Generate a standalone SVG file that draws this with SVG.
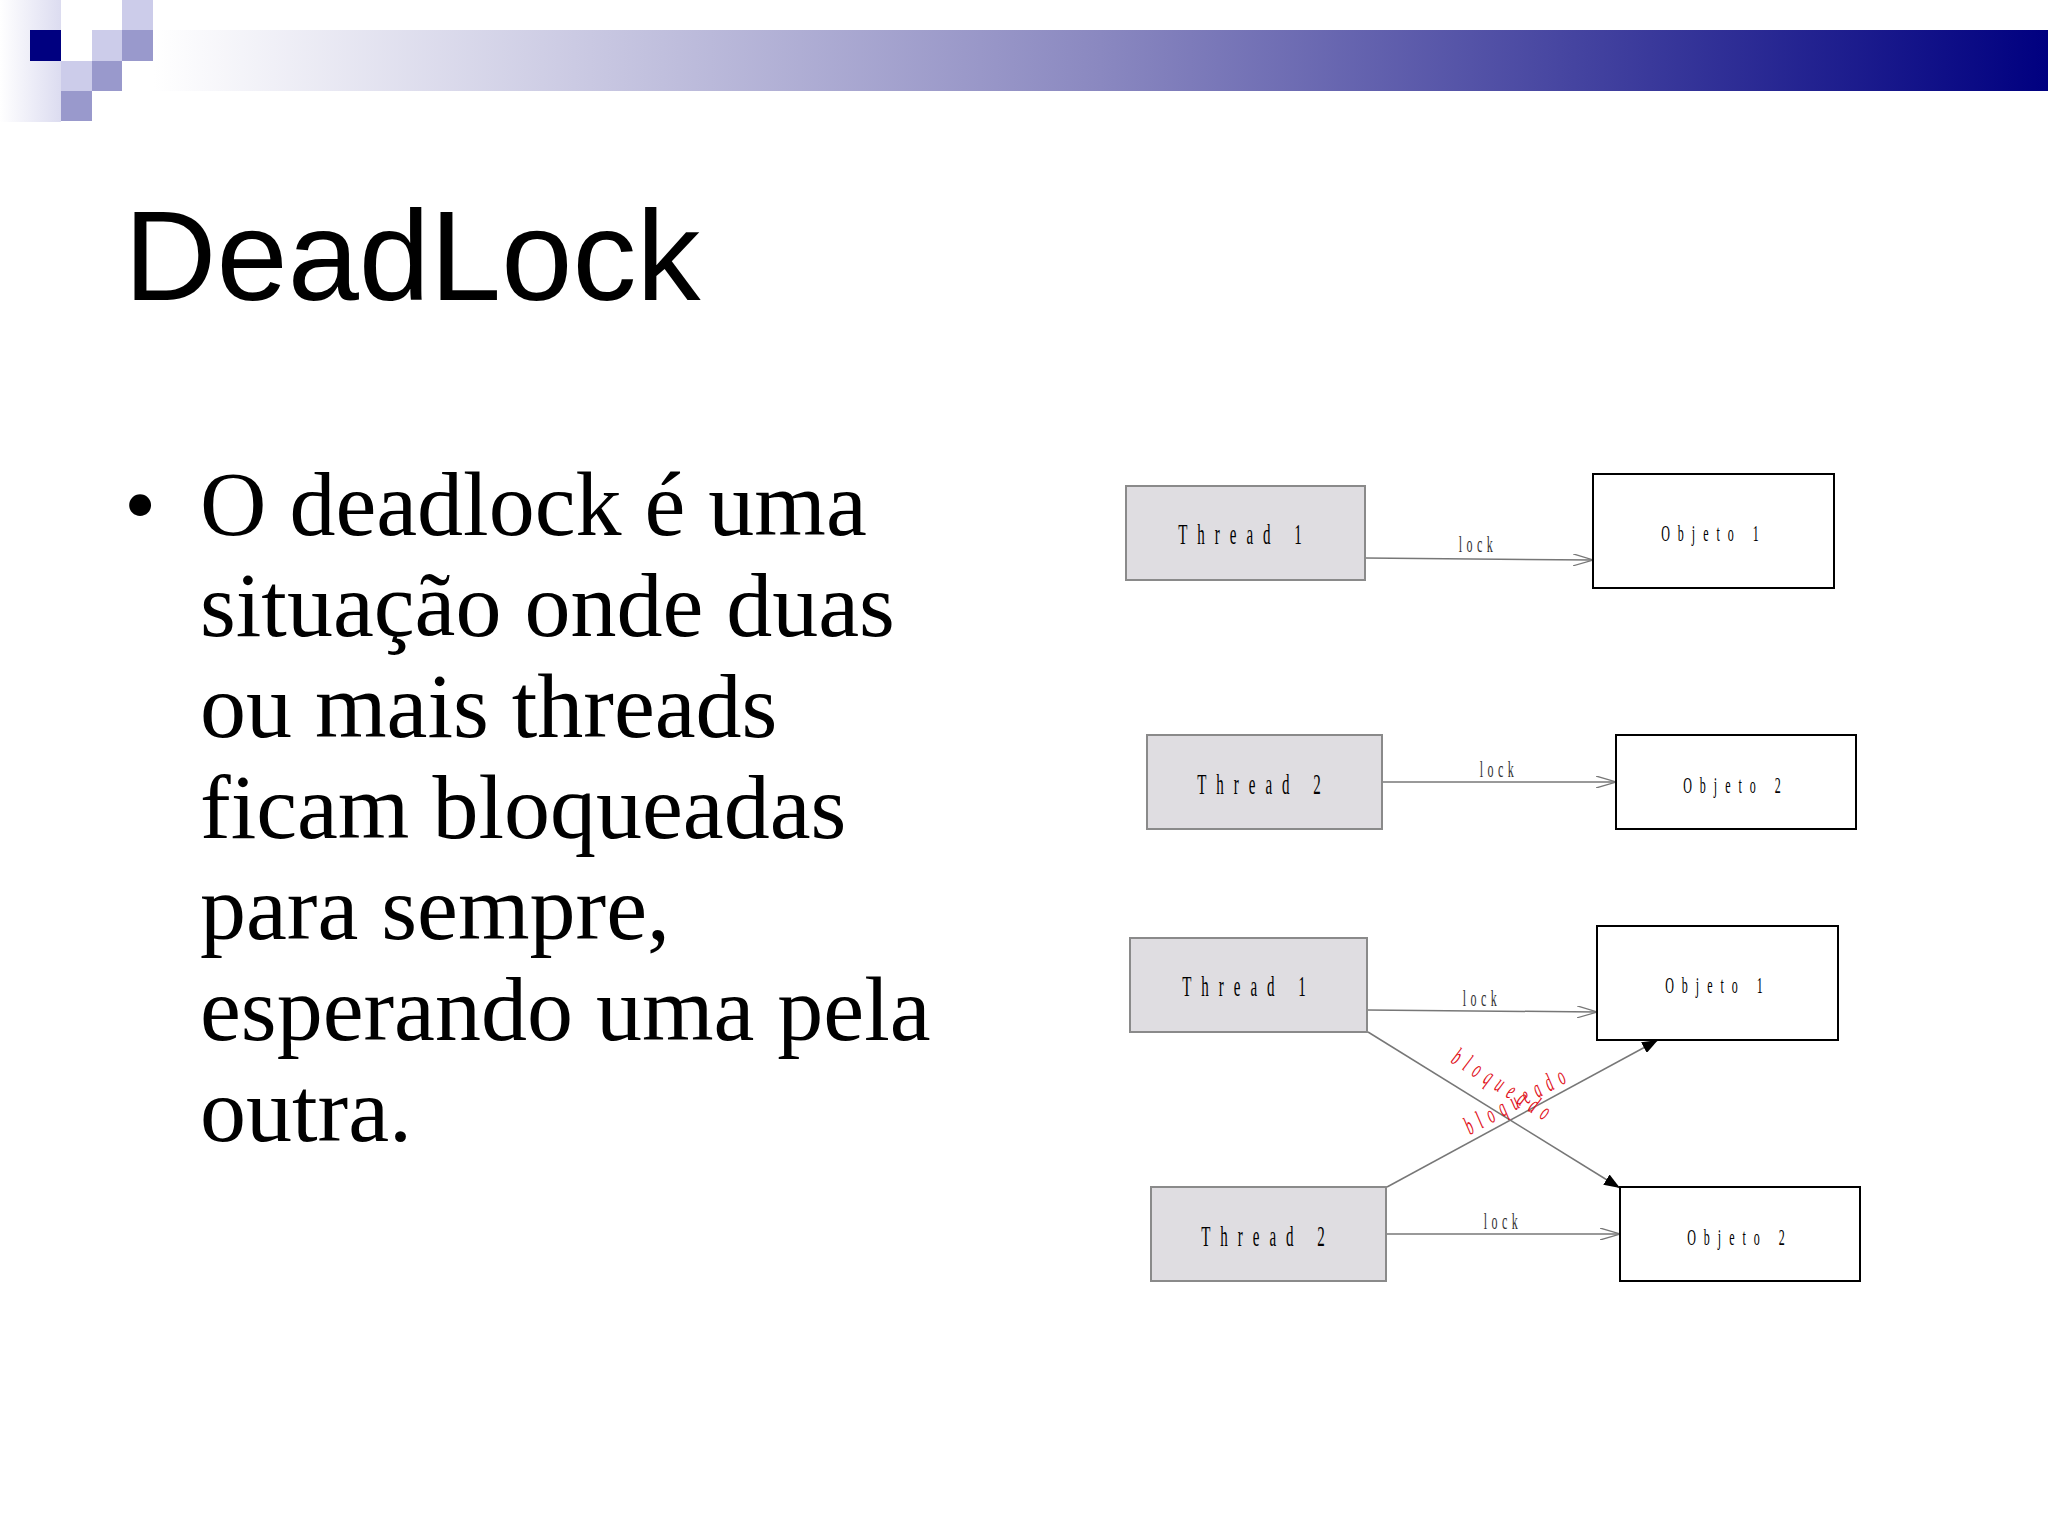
<svg xmlns="http://www.w3.org/2000/svg" width="2048" height="1536" viewBox="0 0 2048 1536">
<defs>
<linearGradient id="bar" x1="0" x2="1" y1="0" y2="0">
<stop offset="0" stop-color="#ffffff"/><stop offset="0.5" stop-color="#8a88c0"/><stop offset="1" stop-color="#000080"/>
</linearGradient>
<linearGradient id="side" x1="0" x2="1" y1="0" y2="0">
<stop offset="0" stop-color="#ffffff"/><stop offset="1" stop-color="#dcdcf0"/>
</linearGradient>
<marker id="open" viewBox="0 0 20 12" refX="20" refY="6" markerWidth="20" markerHeight="12" markerUnits="userSpaceOnUse" orient="auto">
<path d="M0,0 L20,6 L0,12" fill="none" stroke="#777" stroke-width="1.3"/>
</marker>
<marker id="fill" viewBox="0 0 16 12" refX="16" refY="6" markerWidth="16" markerHeight="12" markerUnits="userSpaceOnUse" orient="auto">
<path d="M0,0 L16,6 L0,12 Z" fill="#000"/>
</marker>
</defs>
<style>
.thr{fill:#dfdde1;stroke:#8a8a8a;stroke-width:2}
.obj{fill:#fff;stroke:#000;stroke-width:2}
.lbl{font-family:"Liberation Serif",serif;font-size:30px;letter-spacing:20px;fill:#000}
.olbl{font-family:"Liberation Serif",serif;font-size:24px;letter-spacing:16px;fill:#000}
.lk{font-family:"Liberation Serif",serif;font-size:24px;letter-spacing:9px;fill:#333}
.red{font-family:"Liberation Serif",serif;font-size:26px;letter-spacing:14px;fill:#e0101a;font-style:italic}
.ln{stroke:#777;stroke-width:1.5;fill:none}
</style>
<rect width="2048" height="1536" fill="#fff"/>
<g id="decor">
<rect x="0" y="0" width="61" height="122" fill="url(#side)"/>
<rect x="153" y="30" width="1895" height="61" fill="url(#bar)"/>
<rect x="30" y="30" width="31" height="31" fill="#000080"/>
<rect x="92" y="30" width="30" height="31" fill="#ccccea"/>
<rect x="122" y="0" width="31" height="30" fill="#ccccea"/>
<rect x="122" y="30" width="31" height="31" fill="#9999cc"/>
<rect x="61" y="61" width="31" height="30" fill="#ccccea"/>
<rect x="92" y="61" width="30" height="30" fill="#9999cc"/>
<rect x="61" y="91" width="31" height="30" fill="#9999cc"/>
</g>
<text x="124" y="300" font-family="Liberation Sans, sans-serif" font-size="128" fill="#000">DeadLock</text>
<g id="bullet" font-family="Liberation Serif, serif" font-size="92" fill="#000">
<text x="124" y="535">•</text>
<text x="200" y="535">O deadlock é uma</text>
<text x="200" y="636">situação onde duas</text>
<text x="200" y="737">ou mais threads</text>
<text x="200" y="838">ficam bloqueadas</text>
<text x="200" y="939">para sempre,</text>
<text x="200" y="1040">esperando uma pela</text>
<text x="200" y="1141">outra.</text>
</g>
<g id="connectors">
<line class="ln" x1="1365" y1="558" x2="1593" y2="560" marker-end="url(#open)"/>
<line class="ln" x1="1382" y1="782" x2="1616" y2="782" marker-end="url(#open)"/>
<line class="ln" x1="1367" y1="1010" x2="1597" y2="1012" marker-end="url(#open)"/>
<line class="ln" x1="1386" y1="1234" x2="1620" y2="1234" marker-end="url(#open)"/>
<line class="ln" x1="1368" y1="1032" x2="1620" y2="1188" marker-end="url(#fill)"/>
<line class="ln" x1="1387" y1="1187" x2="1658" y2="1040" marker-end="url(#fill)"/>
<text class="lk" transform="translate(1478,552) scale(0.5,1)" text-anchor="middle">lock</text>
<text class="lk" transform="translate(1499,777) scale(0.5,1)" text-anchor="middle">lock</text>
<text class="lk" transform="translate(1482,1006) scale(0.5,1)" text-anchor="middle">lock</text>
<text class="lk" transform="translate(1503,1229) scale(0.5,1)" text-anchor="middle">lock</text>
<text class="red" transform="translate(1450,1062) rotate(32) scale(0.5,1)">bloqueado</text>
<text class="red" transform="translate(1470,1135) rotate(-28.5) scale(0.5,1)">bloqueado</text>
</g>
<g id="t1a"><rect class="thr" x="1126" y="486" width="239" height="94"/><text class="lbl" transform="translate(1245,544) scale(0.5,1)" text-anchor="middle">Thread 1</text></g>
<g id="o1a"><rect class="obj" x="1593" y="474" width="241" height="114"/><text class="olbl" transform="translate(1714,541) scale(0.5,1)" text-anchor="middle">Objeto 1</text></g>
<g id="t2a"><rect class="thr" x="1147" y="735" width="235" height="94"/><text class="lbl" transform="translate(1264,794) scale(0.5,1)" text-anchor="middle">Thread 2</text></g>
<g id="o2a"><rect class="obj" x="1616" y="735" width="240" height="94"/><text class="olbl" transform="translate(1736,793) scale(0.5,1)" text-anchor="middle">Objeto 2</text></g>
<g id="t1b"><rect class="thr" x="1130" y="938" width="237" height="94"/><text class="lbl" transform="translate(1249,996) scale(0.5,1)" text-anchor="middle">Thread 1</text></g>
<g id="o1b"><rect class="obj" x="1597" y="926" width="241" height="114"/><text class="olbl" transform="translate(1718,993) scale(0.5,1)" text-anchor="middle">Objeto 1</text></g>
<g id="t2b"><rect class="thr" x="1151" y="1187" width="235" height="94"/><text class="lbl" transform="translate(1268,1246) scale(0.5,1)" text-anchor="middle">Thread 2</text></g>
<g id="o2b"><rect class="obj" x="1620" y="1187" width="240" height="94"/><text class="olbl" transform="translate(1740,1245) scale(0.5,1)" text-anchor="middle">Objeto 2</text></g>
</svg>
